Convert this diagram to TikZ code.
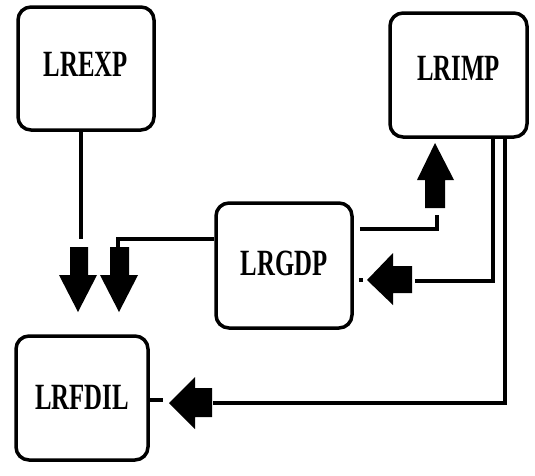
\documentclass[tikz,border=0pt]{standalone}
\usepackage{fontspec}
\setmainfont{Liberation Serif}
\begin{document}
\begin{tikzpicture}[x=1pt,y=-1pt,
  box/.style={draw=black, line width=3.5pt, rounded corners=13pt, fill=white,
    inner sep=0pt, font=\fontsize{37}{37}\selectfont\bfseries},
  conn/.style={line width=3.8pt},
  blk/.style={fill=black}]
\useasboundingbox (0,0) rectangle (535,475);
\newcommand{\lbl}[2][0pt]{\raisebox{#1}{\scalebox{0.67}[1]{#2}}}
% boxes
\node[box, minimum width=136pt, minimum height=123pt] (exp) at (86,68.5) {\lbl[9pt]{LREXP}};
\node[box, minimum width=137pt, minimum height=124pt] (imp) at (458.5,75) {\lbl[13pt]{LRIMP}};
\node[box, minimum width=136pt, minimum height=125pt] (gdp) at (284,265.5) {\lbl[4pt]{LRGDP}};
\node[box, minimum width=132pt, minimum height=124pt] (fdil) at (82,398) {\lbl[2pt]{LRFDIL}};
% coordinates
\coordinate (e1) at (81,239);
\coordinate (g1) at (118,248);
\coordinate (g2) at (437,215);
\coordinate (i1) at (415,281);
\coordinate (i2) at (213,403);
\coordinate (d1) at (363,280);
\coordinate (d2) at (163,400);
% connectors
\draw[conn] (exp.south -| e1) -- (e1);
\draw[conn] (gdp.west |- 0,239) -| (g1);
\draw[conn] ([xshift=6pt]gdp.east |- 0,229) -| (g2);
\draw[conn] ([xshift=34.5pt]imp.south) |- (i1);
\draw[conn] ([xshift=46.5pt]imp.south) |- (i2);
\draw[conn] ([xshift=5pt]gdp.east |- d1) -- (d1);
\draw[conn] (fdil.east |- d2) -- (d2);
% block arrows
\fill[blk] (70,247) -- (88,247) -- (88,275) -- (97,275) -- (78,312) -- (59,275) -- (70,275) -- cycle;
\fill[blk] (110,247) -- (129,247) -- (129,275) -- (138,275) -- (119,312) -- (100,275) -- (110,275) -- cycle;
\fill[blk] (425,208) -- (445,208) -- (445,180) -- (454,180) -- (435,143) -- (417,180) -- (425,180) -- cycle;
\fill[blk] (412,266) -- (412,293) -- (393,293) -- (393,305) -- (367,280) -- (393,253) -- (393,266) -- cycle;
\fill[blk] (212,388) -- (212,417) -- (195,417) -- (195,429) -- (169,403) -- (195,377) -- (195,388) -- cycle;
\end{tikzpicture}
\end{document}
